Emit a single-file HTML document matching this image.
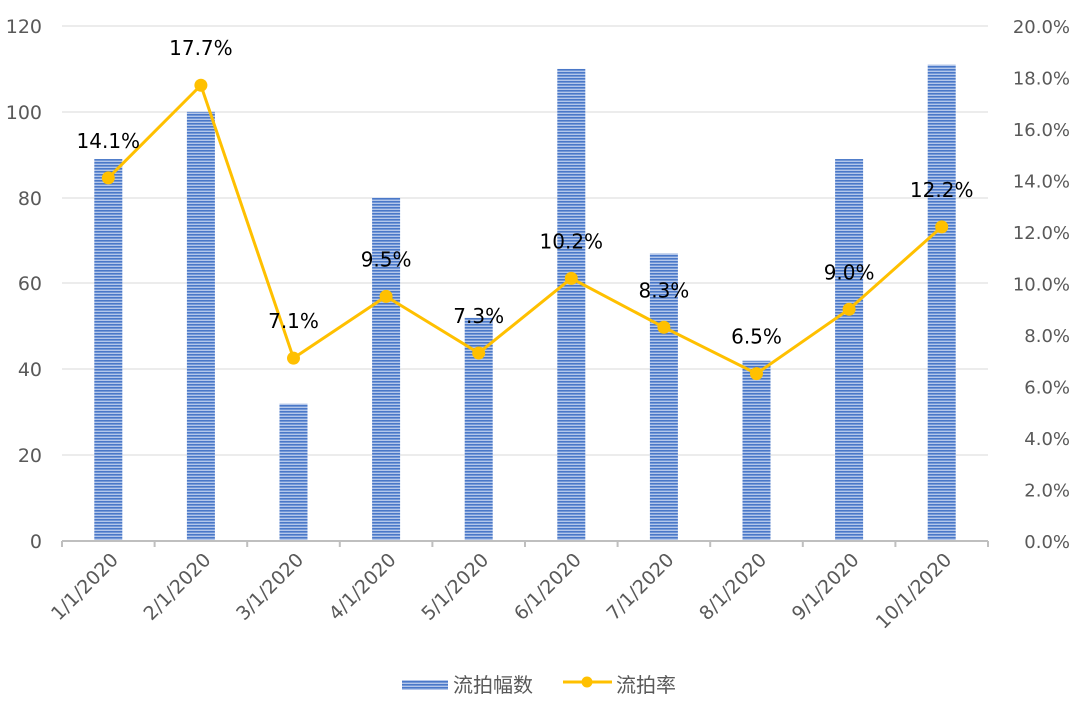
<!DOCTYPE html>
<html><head><meta charset="utf-8"><style>
body{margin:0;background:#fff}
text{font-family:"DejaVu Sans","Noto Sans CJK SC",sans-serif}
</style></head><body>
<svg width="1080" height="701" viewBox="0 0 1080 701" xmlns="http://www.w3.org/2000/svg">
<defs>
<pattern id="st" width="4" height="3" patternUnits="userSpaceOnUse">
<rect width="4" height="3" fill="#b4c7ea"/><rect width="4" height="1.6" fill="#4a78c8"/>
</pattern>
</defs>
<g stroke="#d9d9d9" stroke-width="1">
<line x1="62" y1="26" x2="988" y2="26"/><line x1="62" y1="112" x2="988" y2="112"/>
<line x1="62" y1="198" x2="988" y2="198"/><line x1="62" y1="283" x2="988" y2="283"/>
<line x1="62" y1="369" x2="988" y2="369"/><line x1="62" y1="455" x2="988" y2="455"/>
</g>
<g fill="url(#st)" id="bars"></g>
<line x1="62" y1="541" x2="988" y2="541" stroke="#bfbfbf" stroke-width="2"/>
<g id="ticks" stroke="#bfbfbf" stroke-width="2"></g>
<g font-size="19" fill="#595959" text-anchor="end">
<text x="42" y="33">120</text><text x="42" y="119">100</text><text x="42" y="205">80</text>
<text x="42" y="290">60</text><text x="42" y="376">40</text><text x="42" y="462">20</text><text x="42" y="548">0</text>
</g>
<g font-size="18" fill="#595959" text-anchor="end" id="ry"></g>
<g font-size="19" fill="#595959" text-anchor="end" id="xl"></g>
<polyline id="ln" fill="none" stroke="#ffc000" stroke-width="3"/>
<g id="mk" fill="#ffc000"></g>
<g id="lb" font-size="20" fill="#000" text-anchor="middle"></g>
<rect x="402" y="680" width="46" height="10" fill="url(#st)"/>
<text x="453" y="692" font-size="20" fill="#595959">流拍幅数</text>
<line x1="563" y1="682" x2="612" y2="682" stroke="#ffc000" stroke-width="3"/>
<circle cx="587" cy="682" r="5.5" fill="#ffc000"/>
<text x="616" y="692" font-size="20" fill="#595959">流拍率</text>
</svg>
<script>
var ns="http://www.w3.org/2000/svg";
function el(p,t,a,txt){var e=document.createElementNS(ns,t);for(var k in a)e.setAttribute(k,a[k]);if(txt)e.textContent=txt;document.getElementById(p).appendChild(e);}
var b=[89,100,32,80,52,110,67,42,89,111],r=[14.1,17.7,7.1,9.5,7.3,10.2,8.3,6.5,9.0,12.2];
var pts=[];
for(var i=0;i<10;i++){var cx=62+92.6*(i+0.5);var h=b[i]*515/120;
el("bars","rect",{x:cx-14,y:541-h,width:28,height:h});
el("ticks","line",{x1:62+92.6*i,y1:541,x2:62+92.6*i,y2:547});
var y=541-r[i]/20*515;pts.push(cx+","+y);
el("mk","circle",{cx:cx,cy:y,r:6.5});
el("lb","text",{x:cx,y:y-30},r[i].toFixed(1)+"%");
el("xl","text",{x:cx+11,y:561,transform:"rotate(-45 "+(cx+11)+" 561)"},(i+1)+"/1/2020");}
el("ticks","line",{x1:988,y1:541,x2:988,y2:547});
document.getElementById("ln").setAttribute("points",pts.join(" "));
for(var j=0;j<=10;j++){el("ry","text",{x:1070,y:548-j*51.5},(j*2).toFixed(1)+"%");}
</script>
</body></html>
